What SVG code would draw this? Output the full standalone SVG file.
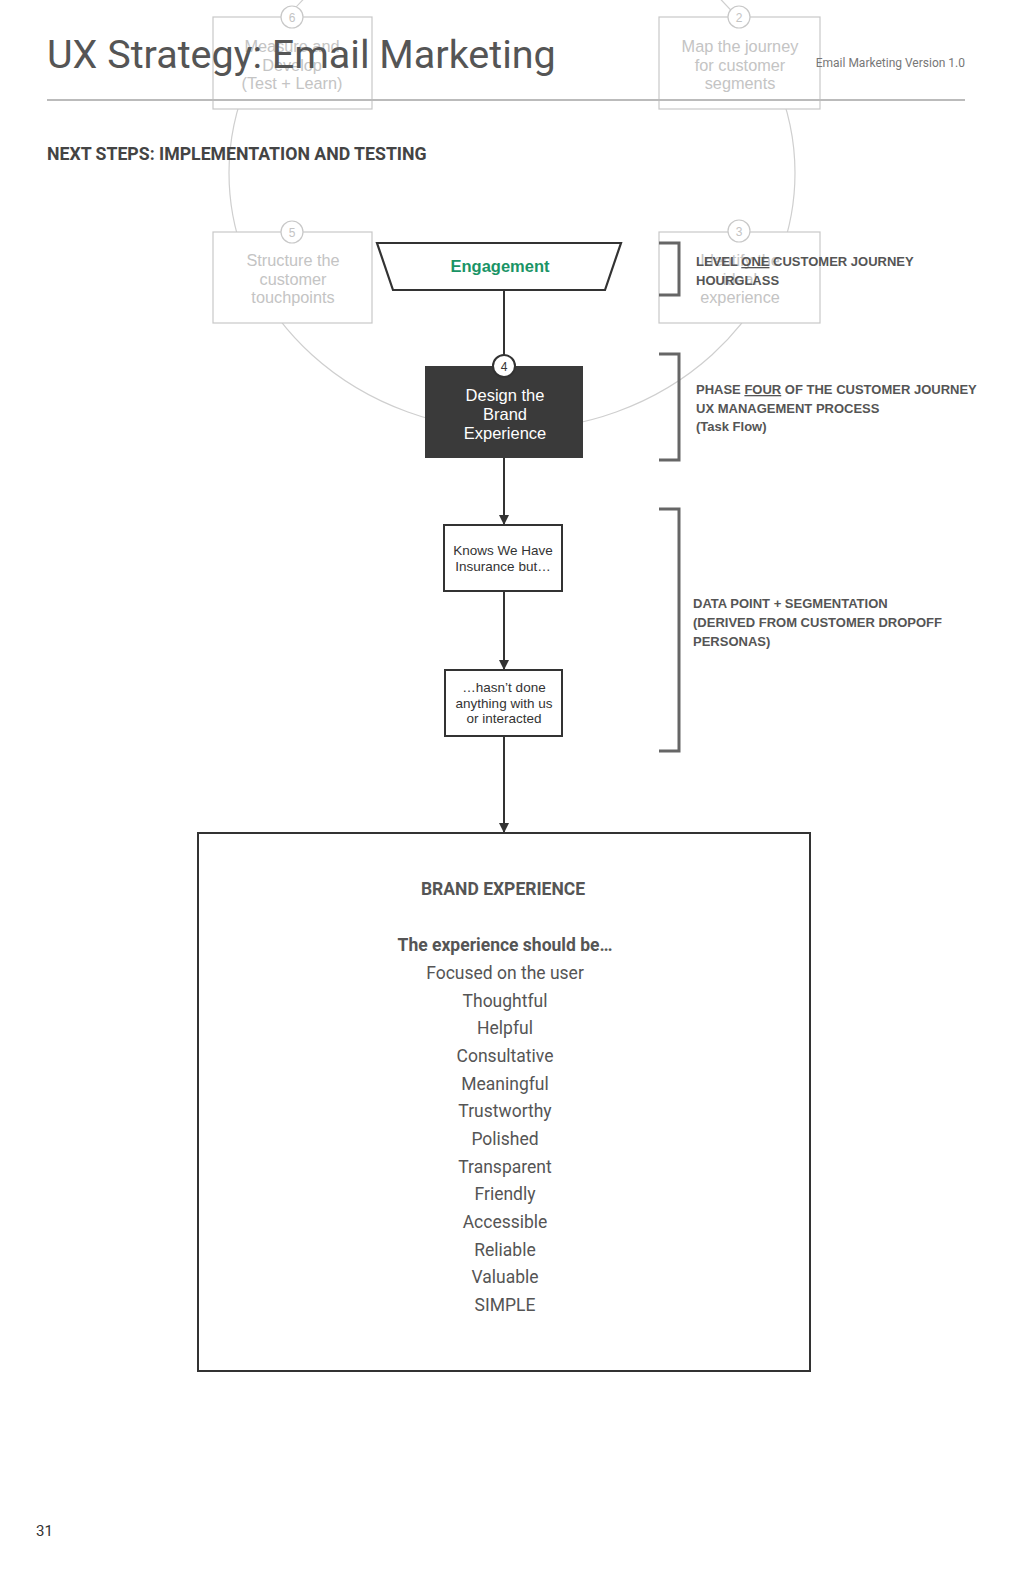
<svg xmlns="http://www.w3.org/2000/svg" width="1024" height="1587" viewBox="0 0 1024 1587">
<defs>
<marker id="arr" viewBox="0 0 10 10" refX="10" refY="5" markerWidth="10" markerHeight="10" markerUnits="userSpaceOnUse" orient="auto">
<path d="M0,0 L10,5 L0,10 z" fill="#333"/>
</marker>
<style>
.faint{fill:#fff;stroke:#c8c8c8;stroke-width:1.2}
.ftxt{font-family:"Liberation Sans",Arial,sans-serif;font-size:16.3px;fill:#c4c4c4;text-anchor:middle}
.fnum{font-family:"Liberation Sans",Arial,sans-serif;font-size:12px;fill:#c4c4c4;text-anchor:middle}
.box{fill:#fff;stroke:#333;stroke-width:2}
.btxt{font-family:"Liberation Sans",Arial,sans-serif;font-size:13.5px;fill:#333;text-anchor:middle}
.lbl{font-family:"Liberation Sans",Arial,sans-serif;font-size:13px;font-weight:bold;fill:#555}
.brk{fill:none;stroke:#666;stroke-width:3}
.conn{fill:none;stroke:#333;stroke-width:2}
.list{font-family:Roboto,"Liberation Sans",sans-serif;font-size:17.5px;fill:#555;text-anchor:middle}
</style>
</defs>
<rect width="1024" height="1587" fill="#fff"/>
<ellipse cx="512" cy="173" rx="283" ry="257" fill="none" stroke="#cfcfcf" stroke-width="1.2"/>
<g id="node-6">
<rect class="faint" x="213" y="17" width="159" height="92"/>
<circle class="faint" cx="292" cy="17" r="11"/>
<text class="fnum" x="292" y="21.5">6</text>
<text class="ftxt" x="292" y="52">Measure and</text>
<text class="ftxt" x="292" y="71">Develop</text>
<text class="ftxt" x="292" y="89">(Test + Learn)</text>
</g>
<g id="node-2">
<rect class="faint" x="659" y="17" width="161" height="92"/>
<circle class="faint" cx="739" cy="17" r="11"/>
<text class="fnum" x="739" y="21.5">2</text>
<text class="ftxt" x="740" y="52">Map the journey</text>
<text class="ftxt" x="740" y="71">for customer</text>
<text class="ftxt" x="740" y="89">segments</text>
</g>
<g id="node-5">
<rect class="faint" x="213" y="232" width="159" height="91"/>
<circle class="faint" cx="292" cy="232" r="11"/>
<text class="fnum" x="292" y="236.5">5</text>
<text class="ftxt" x="293" y="266">Structure the</text>
<text class="ftxt" x="293" y="285">customer</text>
<text class="ftxt" x="293" y="303">touchpoints</text>
</g>
<g id="node-3">
<rect class="faint" x="659" y="232" width="161" height="91"/>
<circle class="faint" cx="739" cy="231" r="11"/>
<text class="fnum" x="739" y="235.5">3</text>
<text class="ftxt" x="740" y="266">Identify the</text>
<text class="ftxt" x="740" y="285">ideal</text>
<text class="ftxt" x="740" y="303">experience</text>
</g>
<g id="connectors">
<line class="conn" x1="504" y1="290" x2="504" y2="356"/>
<line class="conn" x1="504" y1="458" x2="504" y2="525" marker-end="url(#arr)"/>
<line class="conn" x1="504" y1="591" x2="504" y2="670" marker-end="url(#arr)"/>
<line class="conn" x1="504" y1="736" x2="504" y2="833" marker-end="url(#arr)"/>
</g>
<g id="node-engagement">
<polygon points="377,243 621,243 605,290 393,290" fill="#fff" stroke="#333" stroke-width="2.2"/>
<text x="500" y="272" font-family="'Liberation Sans',Arial,sans-serif" font-size="16.5" font-weight="bold" fill="#1a9466" text-anchor="middle">Engagement</text>
</g>
<g id="node-4">
<rect x="425" y="366" width="158" height="92" fill="#3a3a3a"/>
<circle cx="504" cy="366" r="11" fill="#fff" stroke="#333" stroke-width="2"/>
<text x="504" y="371" font-family="'Liberation Sans',Arial,sans-serif" font-size="12" fill="#333" text-anchor="middle">4</text>
<text x="505" y="401" font-family="'Liberation Sans',Arial,sans-serif" font-size="16.5" fill="#fff" text-anchor="middle">Design the</text>
<text x="505" y="420" font-family="'Liberation Sans',Arial,sans-serif" font-size="16.5" fill="#fff" text-anchor="middle">Brand</text>
<text x="505" y="439" font-family="'Liberation Sans',Arial,sans-serif" font-size="16.5" fill="#fff" text-anchor="middle">Experience</text>
</g>
<g id="node-knows">
<rect class="box" x="444" y="525" width="118" height="66"/>
<text class="btxt" x="503" y="555">Knows We Have</text>
<text class="btxt" x="503" y="571">Insurance but…</text>
</g>
<g id="node-hasnt">
<rect class="box" x="445" y="670" width="117" height="66"/>
<text class="btxt" x="504" y="692">…hasn’t done</text>
<text class="btxt" x="504" y="708">anything with us</text>
<text class="btxt" x="504" y="723">or interacted</text>
</g>
<g id="node-brand">
<rect class="box" x="198" y="833" width="612" height="538"/>
<text x="503" y="895" font-family="Roboto,'Liberation Sans',sans-serif" font-size="17.5" font-weight="bold" fill="#555" text-anchor="middle">BRAND EXPERIENCE</text>
<text x="505" y="951" font-family="Roboto,'Liberation Sans',sans-serif" font-size="17.5" font-weight="bold" fill="#555" text-anchor="middle">The experience should be…</text>
<text class="list" x="505" y="979">Focused on the user</text>
<text class="list" x="505" y="1007">Thoughtful</text>
<text class="list" x="505" y="1034">Helpful</text>
<text class="list" x="505" y="1062">Consultative</text>
<text class="list" x="505" y="1090">Meaningful</text>
<text class="list" x="505" y="1117">Trustworthy</text>
<text class="list" x="505" y="1145">Polished</text>
<text class="list" x="505" y="1173">Transparent</text>
<text class="list" x="505" y="1200">Friendly</text>
<text class="list" x="505" y="1228">Accessible</text>
<text class="list" x="505" y="1256">Reliable</text>
<text class="list" x="505" y="1283">Valuable</text>
<text class="list" x="505" y="1311">SIMPLE</text>
</g>
<g id="annotations">
<path class="brk" d="M659,243 H679 V295 H659"/>
<path class="brk" d="M659,354 H679 V460 H659"/>
<path class="brk" d="M659,509 H679 V751 H659"/>
<text class="lbl" x="696" y="266">LEVEL <tspan text-decoration="underline">ONE</tspan> CUSTOMER JOURNEY</text>
<text class="lbl" x="696" y="285">HOURGLASS</text>
<text class="lbl" x="696" y="394">PHASE <tspan text-decoration="underline">FOUR</tspan> OF THE CUSTOMER JOURNEY</text>
<text class="lbl" x="696" y="413">UX MANAGEMENT PROCESS</text>
<text class="lbl" x="696" y="431">(Task Flow)</text>
<text class="lbl" x="693" y="608">DATA POINT + SEGMENTATION</text>
<text class="lbl" x="693" y="627">(DERIVED FROM CUSTOMER DROPOFF</text>
<text class="lbl" x="693" y="646">PERSONAS)</text>
</g>
<g id="header">
<line x1="47" y1="100" x2="965" y2="100" stroke="#bbb" stroke-width="2"/>
<text x="47" y="68" font-family="Roboto,'Liberation Sans',sans-serif" font-size="39.5" fill="#555">UX Strategy: Email Marketing</text>
<text x="965" y="67" font-family="Roboto,'Liberation Sans',sans-serif" font-size="12" fill="#777" text-anchor="end">Email Marketing Version 1.0</text>
<text x="47" y="160" font-family="Roboto,'Liberation Sans',sans-serif" font-size="17.7" font-weight="bold" fill="#444">NEXT STEPS: IMPLEMENTATION AND TESTING</text>
<text x="36" y="1536" font-family="Roboto,'Liberation Sans',sans-serif" font-size="15" fill="#333">31</text>
</g>
</svg>
